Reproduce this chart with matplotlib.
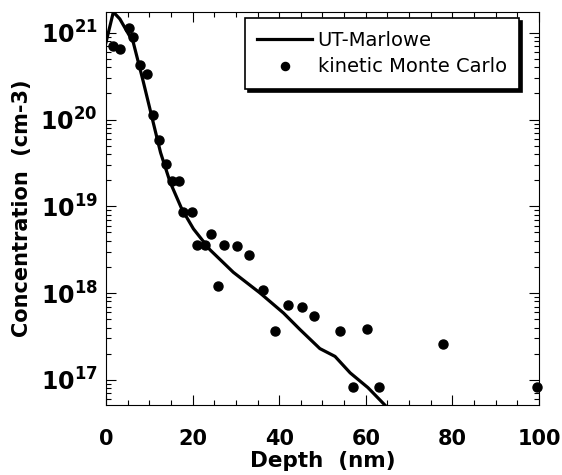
import numpy as np
import matplotlib
matplotlib.use("Agg")
import matplotlib.pyplot as plt
from matplotlib.ticker import MultipleLocator, LogLocator, NullFormatter

plt.rcParams['font.family'] = ['DejaVu Sans']

# UT-Marlowe profile (depth in nm, log10 concentration in cm-3)
ut_depth = [0.0, 1.7, 3.2, 6.3, 8.6, 10.5, 12.6, 14.8, 17.5, 20.2, 24.0, 29.4,
            35.6, 41.0, 44.8, 49.4, 52.9, 56.4, 60.5, 64.4]
ut_logc = [20.89, 21.24, 21.16, 20.89, 20.44, 20.05, 19.62, 19.28, 18.97, 18.74,
           18.50, 18.24, 18.00, 17.77, 17.58, 17.36, 17.27, 17.08, 16.91, 16.71]

# kinetic Monte Carlo points
kmc_depth = [1.7, 3.2, 5.2, 6.3, 7.9, 9.4, 10.8, 12.3, 13.9, 15.2, 16.9, 17.9,
             19.8, 21.1, 22.9, 24.2, 25.8, 27.3, 30.2, 33.1, 36.3, 39.1, 42.1,
             45.2, 48.1, 54.0, 57.1, 60.2, 63.1, 77.9, 99.5]
kmc_logc = [20.85, 20.81, 21.05, 20.95, 20.63, 20.52, 20.05, 19.77, 19.49, 19.29,
            19.29, 18.93, 18.93, 18.55, 18.55, 18.68, 18.08, 18.55, 18.54, 18.44,
            18.03, 17.56, 17.86, 17.84, 17.74, 17.56, 16.92, 17.59, 16.92, 17.41,
            16.92]

ut_conc = 10 ** np.array(ut_logc)
kmc_conc = 10 ** np.array(kmc_logc)

fig = plt.figure(figsize=(5.62, 4.75), dpi=100)
ax = fig.add_axes([0.1886, 0.1474, 0.7704, 0.8273])

ax.plot(ut_depth, ut_conc, color='black', lw=2.3, label='UT-Marlowe', zorder=3)
ax.plot(kmc_depth, kmc_conc, 'o', color='black', ms=6.5, label='kinetic Monte Carlo',
        clip_on=False, zorder=4)

ax.set_yscale('log')
ax.set_xlim(0, 100)
ax.set_ylim(10 ** 16.71, 10 ** 21.24)

ax.xaxis.set_major_locator(MultipleLocator(20))
ax.xaxis.set_minor_locator(MultipleLocator(5))
ax.yaxis.set_major_locator(LogLocator(base=10, numticks=10))
ax.yaxis.set_minor_locator(LogLocator(base=10, subs=np.arange(2, 10), numticks=20))
ax.yaxis.set_minor_formatter(NullFormatter())

ax.tick_params(which='both', direction='in', top=True, right=True, width=0.8)
ax.tick_params(which='major', length=7)
ax.tick_params(axis='x', which='major', labelsize=15, pad=17)
ax.tick_params(axis='y', which='major', labelsize=17, pad=6)
ax.tick_params(which='minor', length=3.5)
for lab in ax.get_xticklabels() + ax.get_yticklabels():
    lab.set_fontweight('bold')

for s in ax.spines.values():
    s.set_linewidth(0.8)

ax.set_xlabel('Depth  (nm)', fontsize=15.5, fontweight='bold', labelpad=2)
ax.set_ylabel('Concentration  (cm-3)', fontsize=15, fontweight='bold', labelpad=6)

leg = ax.legend(loc='upper right', bbox_to_anchor=(0.955, 0.985), borderaxespad=0,
                fontsize=14, frameon=True, fancybox=False,
                shadow={'color': 'black', 'alpha': 1}, edgecolor='black',
                handlelength=2.8, handletextpad=0.3, borderpad=0.65,
                labelspacing=0.4, markerscale=0.9)
leg.get_frame().set_linewidth(1.2)

fig.savefig('out.png', dpi=100)
